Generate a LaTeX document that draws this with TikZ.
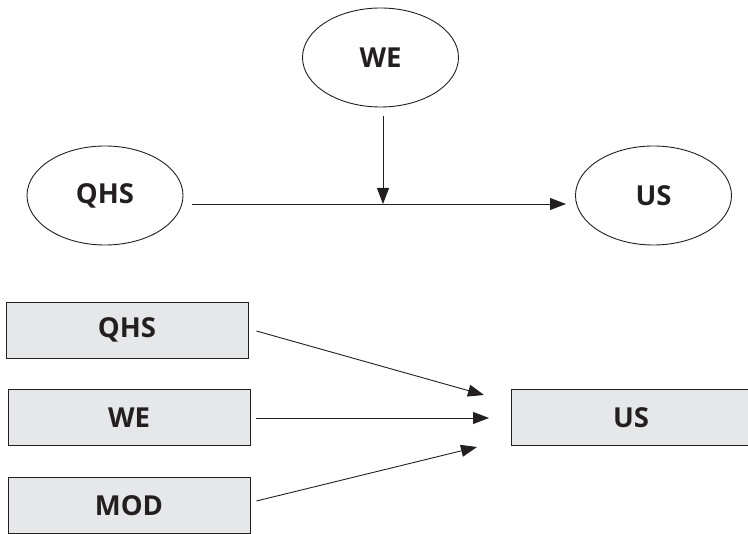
\documentclass[tikz,border=0pt]{standalone}
\usepackage{fontspec}
\setmainfont{Open Sans}
\usetikzlibrary{shapes.geometric,arrows.meta}
\definecolor{boxgray}{HTML}{E6E7E8}
\definecolor{linegray}{HTML}{231F20}
\begin{document}
\begin{tikzpicture}[x=1pt,y=-1pt,
  every node/.style={font=\fontsize{27.5}{32}\selectfont\bfseries, text=linegray},
  oval/.style={draw=linegray, line width=0.9pt, ellipse, minimum width=156pt, minimum height=99pt, inner sep=0pt},
  grbox/.style={draw=linegray, line width=0.9pt, fill=boxgray, rectangle, minimum width=242pt, minimum height=56pt, inner sep=0pt},
  conn/.style={draw=linegray, line width=0.9pt, -{Triangle[length=16pt,width=12pt]}}]
\useasboundingbox (0,0) rectangle (748,534);
% top model
\node[oval] (we) at (380.5,57.5) {WE};
\node[oval] (qhs) at (105,195.5) {QHS};
\node[oval] (us) at (653.5,195.5) {US};
\coordinate (hstart) at (192,204);
\coordinate (hend) at (566,204);
\coordinate (mid) at (383,204);
\coordinate (vstart) at (383,116);
\draw[conn] (hstart) -- (hend);
\draw[conn] (vstart) -- (mid);
% bottom model
\node[grbox] (bqhs) at (127,330) {QHS};
\node[grbox] (bwe) at (129,417.5) {WE};
\node[grbox] (bmod) at (129,505.5) {MOD};
\node[grbox, minimum width=240pt] (bus) at (631,417.5) {US};
\coordinate (t1) at (484,395);
\coordinate (t2) at (489,418);
\coordinate (t3) at (477,447);
\draw[conn] (bqhs.east) ++(8,1) -- (t1);
\draw[conn] (bwe.east) ++(6,0.5) -- (t2);
\draw[conn] (bmod.east) ++(6,-4.5) -- (t3);
\end{tikzpicture}
\end{document}
